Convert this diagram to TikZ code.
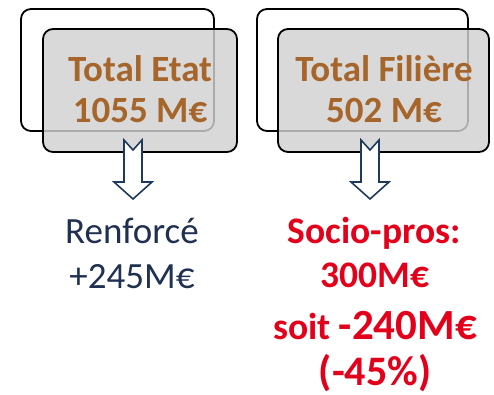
\documentclass[tikz,border=0pt]{standalone}
\usepackage{fontspec}
\setmainfont{Carlito}
\usetikzlibrary{calc}
\definecolor{bronze}{HTML}{A6662B}
\definecolor{navy}{HTML}{1F3050}
\definecolor{arrowblue}{HTML}{1F3A5C}
\definecolor{alertred}{HTML}{E2001A}
\tikzset{
  backcard/.style={draw=black, line width=1.8pt, rounded corners=10pt},
  frontcard/.style={draw=black, line width=1.8pt, rounded corners=10pt, fill=black!18, fill opacity=0.82},
  totaltext/.style={text=bronze, font=\bfseries\fontsize{37}{42}\selectfont, anchor=base, inner sep=0pt},
  resulttext/.style={text=navy, font=\fontsize{37}{42}\selectfont, anchor=base, inner sep=0pt},
  alerttext/.style={text=alertred, font=\bfseries\fontsize{37.5}{42}\selectfont, anchor=base, inner sep=0pt},
  blockarrow/.style={draw=arrowblue, line width=1.6pt, fill=white, line join=miter},
}
\begin{document}
\begin{tikzpicture}[x=1pt, y=-1pt]
\useasboundingbox (0,0) rectangle (494,394);

% left card pair
\draw[backcard] (21,9) rectangle (214,131);
\draw[frontcard] (43,29) rectangle (237,152);
\node[totaltext] (etat1) at (140,81) {Total Etat};
\node[totaltext] (etat2) at (140,122) {1055 M€};

% right card pair
\draw[backcard] (257,9) rectangle (468,131);
\draw[frontcard] (278,29) rectangle (489,152);
\node[totaltext] (fil1) at (384,81) {Total Filière};
\node[totaltext] (fil2) at (384,122) {502 M€};

% notched down arrows
\coordinate (la) at (133,140);
\draw[blockarrow] ($(la)+(-9,0)$) -- ($(la)+(0,10)$) -- ($(la)+(9,0)$) -- ($(la)+(9,42)$)
  -- ($(la)+(19,42)$) -- ($(la)+(0,59)$) -- ($(la)+(-19,42)$) -- ($(la)+(-9,42)$) -- cycle;
\coordinate (ra) at (370,140);
\draw[blockarrow] ($(ra)+(-9,0)$) -- ($(ra)+(0,10)$) -- ($(ra)+(9,0)$) -- ($(ra)+(9,42)$)
  -- ($(ra)+(19,42)$) -- ($(ra)+(0,59)$) -- ($(ra)+(-19,42)$) -- ($(ra)+(-9,42)$) -- cycle;

% results
\node[resulttext] (ren1) at (132,243) {Renforcé};
\node[resulttext] (ren2) at (132,288) {+245M€};

\node[alerttext] (soc1) at (374,243) {Socio-pros:};
\node[alerttext] (soc2) at (375,287) {300M€};
\node[alerttext] (soc3) at (375,339) {soit {\fontsize{43}{48}\selectfont -240M€}};
\node[alerttext, font=\bfseries\fontsize{42}{47}\selectfont] (soc4) at (375,385) {(-45\%)};
\end{tikzpicture}
\end{document}
